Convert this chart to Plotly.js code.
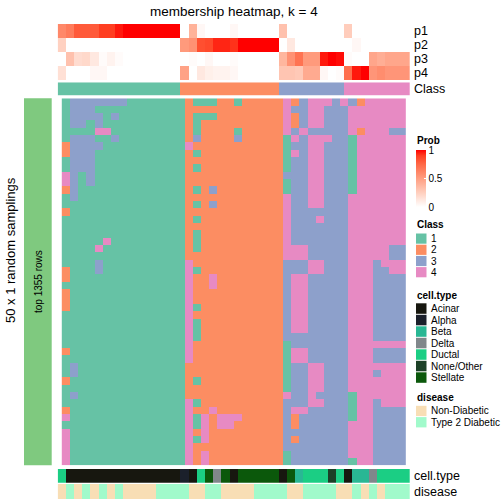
<!DOCTYPE html>
<html>
<head>
<meta charset="utf-8">
<script src="https://cdn.plot.ly/plotly-3.0.1.min.js"></script>
<style>html,body{margin:0;padding:0;background:#fff;}#chart{width:504px;height:504px;}</style>
</head>
<body>
<div id="chart"></div>
<script>
// ---------------- data ----------------
const classLevels = ["1", "2", "3", "4"];
const classColors = ["#66C2A5", "#FC8D62", "#8DA0CB", "#E78AC3"];

// column consensus class (43 samples)
const columnClass = [1,1,1,1,1,1,1,1,1,1,1,1,1,1,1, 2,2,2,2,2,2,2,2,2,2,2,2, 3,3,3,3,3,3,3,3, 4,4,4,4,4,4,4,4];

// membership probabilities
const p1 = [0.60,0.66,0.80,0.80,0.80,0.90,0.90,0.96,1,1,1,1,1,1,1, 0,0.40,0.04,0,0,0,0.04,0,0,0,0,0, 0.32,0,0,0,0,0,0,0, 0.26,0,0,0,0,0,0,0];
const p2 = [0.24,0,0,0,0,0,0,0,0,0,0,0,0,0,0, 0.52,0.56,0.84,0.86,0.94,0.94,0.92,1,1,1,1,1, 0,0.12,0,0,0,0,0,0, 0,0.04,0,0,0,0,0,0];
const p3 = [0,0.32,0.18,0.20,0.12,0.02,0.06,0.02,0,0,0,0,0,0,0, 0,0.02,0,0.04,0,0,0.02,0,0,0,0,0, 0.38,0.56,0.70,0.52,0.52,0.96,1,0.98, 0.02,0,0,0.46,0.42,0.46,0.46,0.46];
const p4 = [0.16,0,0,0,0.04,0.04,0,0,0,0,0,0,0,0,0, 0.48,0,0.12,0.08,0.06,0.06,0.04,0,0,0,0,0, 0.30,0.30,0.28,0.44,0.44,0.04,0,0.02, 0.72,0.96,1,0.54,0.58,0.54,0.54,0.54];
const probLabels = ["p1", "p2", "p3", "p4"];

// class assignment in each of the 50 random samplings (rows) for the 43 samples (columns)
const samplingRows = [
"133333331111111211122122222423444343244444",
"133311111111111222222222222433443334444444",
"133331311111111211122222222423443334444444",
"133131111111111212222222222423443334444444",
"111144111111111212222122222434333334244433",
"133311311111111232222322222143444331444444",
"233331111111111422222222222133443331444444",
"233311111111111212222222222143443331444444",
"133311111111111222222222222133443331444444",
"133311111111111212222222222133443331444444",
"431311111111111222222222222333443331444444",
"431311111111111222222222222133443331444444",
"231111111111111212322222222133443331444444",
"131111111111111222222222222433443334444444",
"111111111111111212322222222433443334444444",
"211111111111111222222222222433333334444444",
"111111111111111212222222222433343334444444",
"111111111111111222222222222433333334444444",
"111111111111111212222222222433333334444444",
"111114111111111212222222222433333334444444",
"111141111111111212222222222444333334444433",
"111111111111111222222222222444333334444433",
"111131111111111422222222222333443334443444",
"211131111111111412222222222333443334443344",
"211111111111111422422222222344333334443333",
"111111111111111422422222222344333334443333",
"211111111111111422222222222344333334443333",
"211111111111111422222222222344333334443333",
"211111111111111412222222222344333334443333",
"111111111111111422222222222344333334443333",
"111111111111111412222222222344333334443333",
"111111111111111412222222222344333334443333",
"111111111111111412222222222333333334443333",
"111111111111111422222222222133333334444444",
"211111111111111422222222222144333334443333",
"111111111111111422222222222144333334443333",
"131111111111111222222222222133443334444444",
"131111111111111222222222222133443334443444",
"211111111111111212222222222133443334444444",
"111111111111111222222222222133443334444444",
"131111111111111222222222222433433331444444",
"111111111111111412222222222333443331443444",
"211111111111111422422222222344333331443333",
"411111111111111414244422222323333331443333",
"111111111111111414244222222323333334443333",
"411111111111111424222222222333333334443333",
"411111111111111414222222222323333334443333",
"411111111111111422222222222333333334443333",
"411111111111111424222222222133333334443333",
"411111111111111424222222222133333331443333"
];

const cellTypeLevels = ["Acinar", "Alpha", "Beta", "Delta", "Ductal", "None/Other", "Stellate"];
const cellTypeColors = ["#17170F", "#1B202B", "#29B794", "#80878B", "#1BCE84", "#1C4027", "#0B580B"];
const cellType = ["Ductal","Acinar","Acinar","Acinar","Acinar","Acinar","Acinar","Acinar","Acinar","Acinar","Acinar","Acinar","Acinar","Acinar","Acinar",
  "Alpha","Acinar","Ductal","Stellate","Delta","Stellate","Acinar","Stellate","Stellate","Stellate","Stellate","Stellate",
  "Acinar","Stellate","Beta","Ductal","Ductal","Ductal","None/Other","Ductal",
  "Acinar","Beta","Beta","Delta","Ductal","Ductal","Ductal","Ductal"];

const diseaseLevels = ["Non-Diabetic", "Type 2 Diabetic"];
const diseaseColors = ["#F8DEB5", "#A1FACB"];
const disease = ["Non-Diabetic","Type 2 Diabetic","Non-Diabetic","Type 2 Diabetic","Non-Diabetic","Type 2 Diabetic","Non-Diabetic","Type 2 Diabetic",
  "Non-Diabetic","Non-Diabetic","Non-Diabetic","Non-Diabetic","Type 2 Diabetic","Type 2 Diabetic","Type 2 Diabetic",
  "Type 2 Diabetic","Non-Diabetic","Non-Diabetic","Type 2 Diabetic","Type 2 Diabetic","Non-Diabetic","Non-Diabetic","Non-Diabetic","Non-Diabetic",
  "Type 2 Diabetic","Type 2 Diabetic","Type 2 Diabetic",
  "Type 2 Diabetic","Non-Diabetic","Non-Diabetic","Type 2 Diabetic","Type 2 Diabetic","Type 2 Diabetic","Type 2 Diabetic","Non-Diabetic",
  "Non-Diabetic","Type 2 Diabetic","Non-Diabetic","Type 2 Diabetic","Non-Diabetic","Type 2 Diabetic","Type 2 Diabetic","Type 2 Diabetic"];

const probColorscale = [[0,"#FFFFFF"],[0.25,"rgb(255,207,190)"],[0.5,"rgb(255,158,129)"],[0.75,"rgb(255,104,70)"],[0.9,"rgb(255,62,33)"],[1,"#FF0000"]];

// ---------------- helpers ----------------
const W = 504, H = 504;
const FONT = "Liberation Sans, Arial, Helvetica, sans-serif";
const PX = v => v / W;
const PY = v => 1 - v / H;
function discreteScale(colors) {
  const n = colors.length, s = [];
  colors.forEach((c, i) => { s.push([i / n, c]); s.push([(i + 1) / n, c]); });
  return s;
}
const nCol = columnClass.length;
const colIdx = columnClass.map((_, i) => i);

const mainZ = samplingRows.map(r => r.split("").map(ch => classLevels.indexOf(ch)));
const probZ = [p1, p2, p3, p4];
const classZ = [columnClass.map(c => classLevels.indexOf(String(c)))];
const cellZ = [cellType.map(c => cellTypeLevels.indexOf(c))];
const disZ = [disease.map(d => diseaseLevels.indexOf(d))];

// ---------------- geometry (pixels) ----------------
const X0 = 57.7, X1 = 410;
const mainTop = 98.3, mainBot = 465.3;

const traces = [
  { type: "heatmap", z: mainZ, x: colIdx, y: samplingRows.map((_, i) => i), xaxis: "x", yaxis: "y",
    colorscale: discreteScale(classColors), zmin: -0.5, zmax: classLevels.length - 0.5, showscale: false, hoverinfo: "skip" },
  { type: "heatmap", z: probZ, x: colIdx, y: probLabels, xaxis: "x", yaxis: "y2",
    colorscale: probColorscale, zmin: 0, zmax: 1, hoverinfo: "skip", showscale: true,
    colorbar: { x: PX(416), xanchor: "left", xpad: 0, y: PY(150), yanchor: "top", ypad: 0,
      len: 57, lenmode: "pixels", thickness: 10, thicknessmode: "pixels", outlinewidth: 0,
      tickvals: [0, 0.5, 1], ticktext: ["0", "0.5", "1"], ticks: "inside", ticklen: 2, tickcolor: "#FFFFFF",
      tickfont: { size: 10, family: FONT, color: "#000" }, title: { text: "" } } },
  { type: "heatmap", z: classZ, x: colIdx, y: ["Class"], xaxis: "x", yaxis: "y3",
    colorscale: discreteScale(classColors), zmin: -0.5, zmax: classLevels.length - 0.5, showscale: false, hoverinfo: "skip" },
  { type: "heatmap", z: cellZ, x: colIdx, y: ["cell.type"], xaxis: "x", yaxis: "y4",
    colorscale: discreteScale(cellTypeColors), zmin: -0.5, zmax: cellTypeLevels.length - 0.5, showscale: false, hoverinfo: "skip" },
  { type: "heatmap", z: disZ, x: colIdx, y: ["disease"], xaxis: "x", yaxis: "y5",
    colorscale: discreteScale(diseaseColors), zmin: -0.5, zmax: diseaseLevels.length - 0.5, showscale: false, hoverinfo: "skip" }
];

const hiddenY = (top, bot, extra) => Object.assign({ domain: [PY(bot), PY(top)], visible: false, fixedrange: true, anchor: "x", autorange: "reversed" }, extra || {});

const annotations = [];
const shapes = [];
function txt(text, x, y, opts) {
  annotations.push(Object.assign({ text: text, x: PX(x), y: PY(y), xref: "paper", yref: "paper", showarrow: false,
    xanchor: "left", yanchor: "middle", font: { size: 10, family: FONT, color: "#000" } }, opts || {}));
}
// title
txt("membership heatmap, k = 4", (X0 + X1) / 2, 11.5, { xanchor: "center", font: { size: 13.5, family: FONT, color: "#000" } });
// right labels of annotations
const rowLabelY = [31, 45, 59, 73];
probLabels.forEach((l, i) => txt(l, 411.5, rowLabelY[i], { font: { size: 12.5, family: FONT, color: "#000" } }));
txt("Class", 411.5, 89, { font: { size: 12.5, family: FONT, color: "#000" } });
txt("cell.type", 411.5, 476, { font: { size: 12.5, family: FONT, color: "#000" } });
txt("disease", 411.5, 492, { font: { size: 12.5, family: FONT, color: "#000" } });
// row titles
shapes.push({ type: "rect", xref: "paper", yref: "paper", x0: PX(24), x1: PX(51.7), y0: PY(mainBot), y1: PY(mainTop), fillcolor: "#7FC97F", line: { width: 0 } });
txt("top 1355 rows", 38, 282, { xanchor: "center", textangle: -90 });
txt("50 x 1 random samplings", 10, 250, { xanchor: "center", textangle: -90, font: { size: 13, family: FONT, color: "#000" } });

// legends
const LX = 416, SW = 10.5;
txt("<b>Prob</b>", LX - 1, 140.5);
function discreteLegend(title, titleY, levels, colors, firstY, step) {
  txt("<b>" + title + "</b>", LX - 1, titleY);
  levels.forEach((lv, i) => {
    const y0 = firstY + i * step;
    shapes.push({ type: "rect", xref: "paper", yref: "paper", x0: PX(LX), x1: PX(LX + SW), y0: PY(y0 + step - 1), y1: PY(y0), fillcolor: colors[i], line: { width: 0 } });
    txt(lv, 429, y0 + (step - 1) / 2);
  });
}
discreteLegend("Class", 224.5, classLevels, classColors, 233.5, 11.2);
discreteLegend("cell.type", 295, cellTypeLevels, cellTypeColors, 303.3, 11.5);
discreteLegend("disease", 397, diseaseLevels, diseaseColors, 405.8, 11.3);

const layout = {
  width: W, height: H, margin: { l: 0, r: 0, t: 0, b: 0 },
  paper_bgcolor: "#FFFFFF", plot_bgcolor: "#FFFFFF", showlegend: false,
  font: { family: FONT },
  xaxis: { domain: [PX(X0), PX(X1)], range: [-0.5, nCol - 0.5], visible: false, fixedrange: true, anchor: "y" },
  yaxis: hiddenY(mainTop, mainBot),
  yaxis2: hiddenY(24, 80),
  yaxis3: hiddenY(82.3, 95.7),
  yaxis4: hiddenY(469, 482.7),
  yaxis5: hiddenY(484, 499),
  annotations: annotations,
  shapes: shapes
};

Plotly.newPlot("chart", traces, layout, { displayModeBar: false, staticPlot: true });
</script>
</body>
</html>
